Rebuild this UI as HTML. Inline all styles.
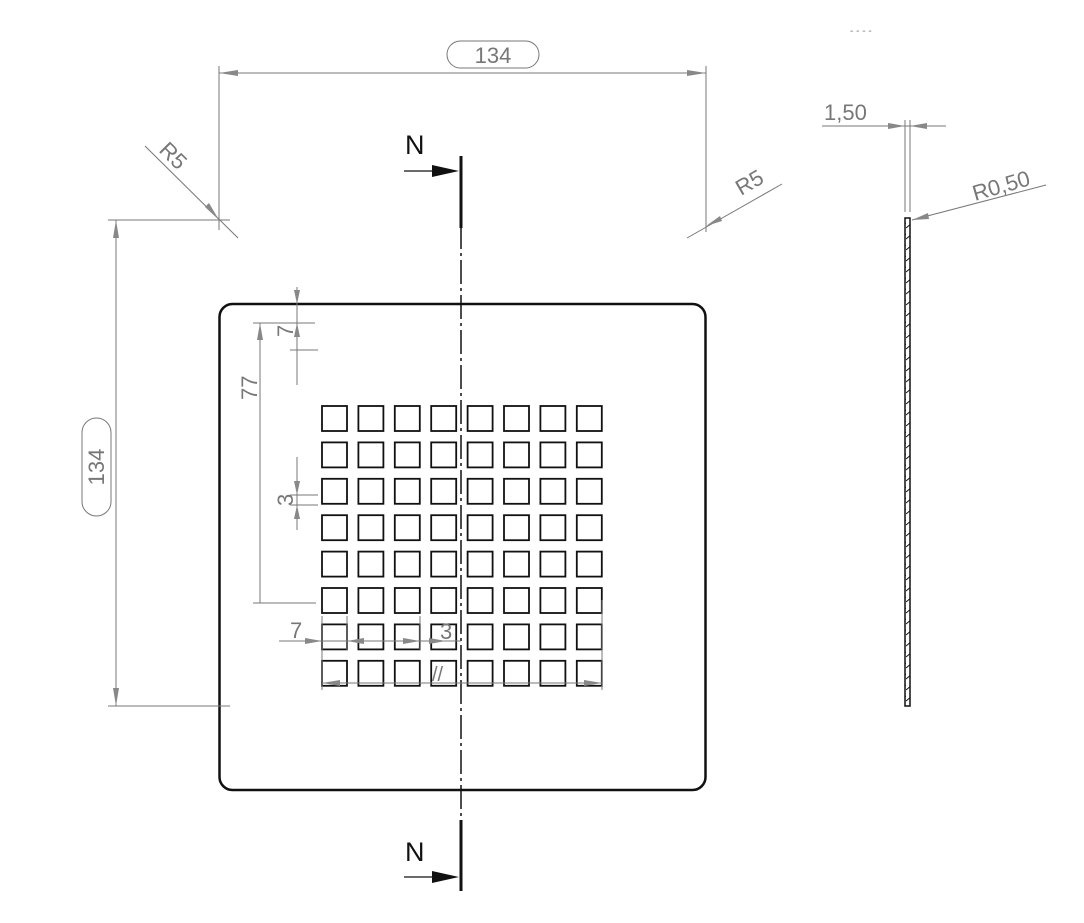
<!DOCTYPE html>
<html><head><meta charset="utf-8"><style>html,body{margin:0;padding:0;background:#fff}svg{display:block}</style></head>
<body>
<svg width="1084" height="923" viewBox="0 0 1084 923" xmlns="http://www.w3.org/2000/svg" font-family="Liberation Sans, sans-serif">
<defs>
<rect id="sq" width="25" height="25" fill="none" stroke="#111" stroke-width="1.8"/>
<g id="row">
<use href="#sq" x="322"/><use href="#sq" x="358.4"/><use href="#sq" x="394.8"/><use href="#sq" x="431.2"/>
<use href="#sq" x="467.6"/><use href="#sq" x="504"/><use href="#sq" x="540.4"/><use href="#sq" x="576.8"/>
</g>
<pattern id="hatch" width="6" height="11" patternUnits="userSpaceOnUse">
<line x1="0" y1="8" x2="6" y2="3" stroke="#111" stroke-width="1"/>
</pattern>
</defs>

<rect x="219.5" y="304" width="486" height="486" rx="13" fill="none" stroke="#111" stroke-width="2.5"/>

<use href="#row" y="406"/><use href="#row" y="442.4"/><use href="#row" y="478.8"/><use href="#row" y="515.2"/>
<use href="#row" y="551.6"/><use href="#row" y="588"/><use href="#row" y="624.4"/><use href="#row" y="660.8"/>

<line x1="461" y1="225" x2="461" y2="820" stroke="#111" stroke-width="1.5" stroke-dasharray="24,4,3,4"/>

<line x1="461" y1="156" x2="461" y2="228" stroke="#111" stroke-width="3"/>
<line x1="404" y1="171" x2="435" y2="171" stroke="#111" stroke-width="1.2"/>
<polygon points="432,165 459,171 432,177" fill="#111"/>
<text x="405" y="154" font-size="27" fill="#111">N</text>
<line x1="461" y1="820" x2="461" y2="891" stroke="#111" stroke-width="3"/>
<line x1="404" y1="877" x2="435" y2="877" stroke="#111" stroke-width="1.2"/>
<polygon points="432,871 459,877 432,883" fill="#111"/>
<text x="405" y="861" font-size="27" fill="#111">N</text>

<g stroke="#777" stroke-width="1" fill="none">
<line x1="219" y1="66" x2="219" y2="230"/>
<line x1="706" y1="66" x2="706" y2="232"/>
<line x1="219" y1="73" x2="706" y2="73"/>
<rect x="447" y="41" width="92" height="27" rx="13.5"/>
<line x1="108" y1="220" x2="230" y2="220"/>
<line x1="108" y1="706" x2="230" y2="706"/>
<line x1="116" y1="220" x2="116" y2="706"/>
<rect x="82" y="418" width="29" height="98" rx="14.5"/>
<line x1="145" y1="146" x2="238" y2="238"/>
<line x1="687" y1="238" x2="782" y2="184"/>
<line x1="297" y1="287" x2="297" y2="385"/>
<line x1="253" y1="323" x2="315" y2="323"/>
<line x1="290" y1="350" x2="318" y2="350"/>
<line x1="260" y1="323" x2="260" y2="603"/>
<line x1="253" y1="603" x2="316" y2="603"/>
<line x1="297" y1="457" x2="297" y2="530"/>
<line x1="290" y1="495" x2="318" y2="495"/>
<line x1="290" y1="505" x2="318" y2="505"/>
<line x1="279" y1="641" x2="461" y2="641"/>
<line x1="322" y1="616" x2="322" y2="690"/>
<line x1="347" y1="616" x2="347" y2="650"/>
<line x1="420" y1="616" x2="420" y2="650"/>
<line x1="322" y1="683" x2="602" y2="683"/>
<line x1="602" y1="600" x2="602" y2="690"/>
<line x1="905" y1="120" x2="905" y2="212"/>
<line x1="910" y1="120" x2="910" y2="212"/>
<line x1="822" y1="126" x2="946" y2="126"/>
<line x1="912" y1="220" x2="1046" y2="185"/>
</g>

<g fill="#888">
<polygon points="219,73 238,70 238,76"/>
<polygon points="706,73 687,70 687,76"/>
<polygon points="116,220 113,238 119,238"/>
<polygon points="116,706 113,688 119,688"/>
<polygon points="219,220 205,207 209,203"/>
<polygon points="706,226 720,216 722,221"/>
<polygon points="297,304 294,290 300,290"/>
<polygon points="297,323 294,337 300,337"/>
<polygon points="260,323 257,340 263,340"/>
<polygon points="297,495 294,481 300,481"/>
<polygon points="297,505 294,519 300,519"/>
<polygon points="322,641 305,638 305,644"/>
<polygon points="347,641 364,638 364,644"/>
<polygon points="420,641 403,638 403,644"/>
<polygon points="446,641 429,638 429,644"/>
<polygon points="322,683 340,680 340,686"/>
<polygon points="602,683 584,680 584,686"/>
<polygon points="905,126 888,123 888,129"/>
<polygon points="910,126 927,123 927,129"/>
<polygon points="912,220 928,213 929,219"/>
</g>

<g fill="#777" font-size="22">
<text x="493" y="63" text-anchor="middle">134</text>
<text transform="translate(104,467) rotate(-90)" text-anchor="middle">134</text>
<text transform="translate(158,151) rotate(45)">R5</text>
<text transform="translate(741,196) rotate(-30)">R5</text>
<text x="824" y="120">1,50</text>
<text transform="translate(975,201) rotate(-16)">R0,50</text>
<text transform="translate(293,337) rotate(-90)">7</text>
<text transform="translate(257,400) rotate(-90)">77</text>
<text transform="translate(293,506) rotate(-90)">3</text>
<text x="290" y="638">7</text>
<text x="440" y="639">3</text>
<text x="432" y="681" font-size="20">//</text>
<text x="850" y="34" font-size="10">-  -  -  -</text>
</g>

<rect x="905" y="218" width="5" height="488" fill="url(#hatch)" stroke="#111" stroke-width="1.5"/>
</svg>
</body></html>
